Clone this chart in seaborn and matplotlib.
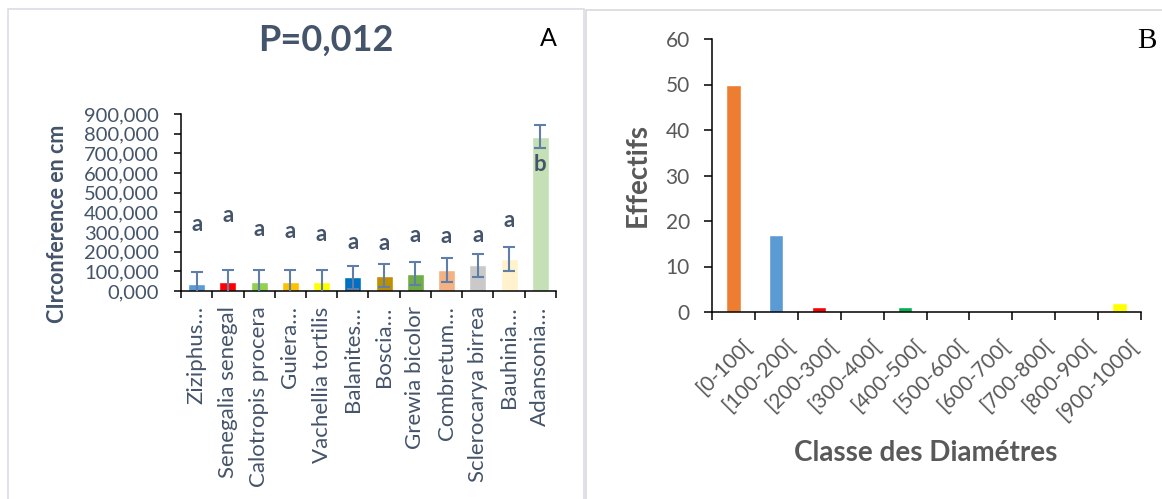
import matplotlib
matplotlib.use("Agg")
import matplotlib.pyplot as plt
from matplotlib.patches import Rectangle
from matplotlib.ticker import FuncFormatter, FixedLocator
from matplotlib.transforms import ScaledTranslation
import seaborn as sns
import pandas as pd
import numpy as np

# Panel A: mean circumference per species
species = ["Ziziphus…", "Senegalia senegal", "Calotropis procera", "Guiera…",
           "Vachellia tortilis", "Balanites…", "Boscia…", "Grewia bicolor",
           "Combretum…", "Sclerocarya birrea", "Bauhinia…", "Adansonia…"]
circ_mean = [37000, 47000, 47000, 47000, 47000, 69000, 78000, 88000,
             108000, 130000, 164000, 785000]
circ_err = [58000, 60000, 60000, 60000, 60000, 57000, 58000, 60000,
            62000, 60000, 61000, 60000]
groups = ["a", "a", "a", "a", "a", "a", "a", "a", "a", "a", "a", "b"]
species_colors = ["#5B9BD5", "#FF0000", "#92D050", "#FFC000", "#FFFF00", "#0070C0",
                  "#BF8F00", "#70AD47", "#F4B183", "#C9C9C9", "#FFF2CC", "#C5E0B4"]

# Panel B: diameter class counts
classes = ["[0-100[", "[100-200[", "[200-300[", "[300-400[", "[400-500[",
           "[500-600[", "[600-700[", "[700-800[", "[800-900[", "[900-1000["]
counts = [50, 17, 1, 0, 1, 0, 0, 0, 0, 2]
class_colors = ["#ED7D31", "#5B9BD5", "#FF0000", "#A5A5A5", "#00B050",
                "#A5A5A5", "#A5A5A5", "#A5A5A5", "#A5A5A5", "#FFFF00"]

# heights at which the group letters are written
letter_y = [337000, 382000, 311000, 303000, 286000, 249000, 244000, 281000,
            276000, 281000, 357000, 641000]

sns.set_theme(style="white")
plt.rcParams["font.family"] = ["Lato", "DejaVu Sans"]

W, H = 1162, 499
fig = plt.figure(figsize=(W / 100, H / 100), dpi=100)
fig.patch.set_facecolor("white")


def px_axes(x0, y0, x1, y1):
    return fig.add_axes([x0 / W, 1 - y1 / H, (x1 - x0) / W, (y1 - y0) / H])


def px_text(x, y, s, **kw):
    return fig.text(x / W, 1 - y / H, s, **kw)


# panel frames
fig.patches.append(Rectangle((8 / W, -0.02), (584 - 8) / W, 1 - 9 / H + 0.02,
                             transform=fig.transFigure, fill=False,
                             edgecolor="#D9DDE3", lw=1.2))
fig.patches.append(Rectangle((586 / W, -0.02), (1170 - 586) / W, 1 - 10 / H + 0.02,
                             transform=fig.transFigure, fill=False,
                             edgecolor="#D9D9D9", lw=1.2))

slate = "#44546A"
grey = "#595959"

# ---------------- Panel A ----------------
axA = px_axes(181, 114, 556, 291)
dfA = pd.DataFrame({"species": species, "mean": circ_mean})
sns.barplot(data=dfA, x="species", y="mean", hue="species", order=species,
            palette=dict(zip(species, species_colors)), width=0.55,
            legend=False, ax=axA, errorbar=None, saturation=1)
xs = np.arange(len(species))
axA.errorbar(xs, circ_mean, yerr=circ_err, fmt="none", ecolor="#5F7FA8",
             elinewidth=1.5, capsize=4.3, capthick=1.5, zorder=5)
axA.set_ylim(0, 900000)
axA.set_xlim(-0.5, len(species) - 0.5)
axA.yaxis.set_major_locator(FixedLocator(np.arange(0, 900001, 100000)))
axA.yaxis.set_major_formatter(FuncFormatter(lambda v, p: f"{int(round(v / 1000))},000"))
for s in ["top", "right"]:
    axA.spines[s].set_visible(False)
for s in ["left", "bottom"]:
    axA.spines[s].set_color("black")
    axA.spines[s].set_linewidth(1.1)
axA.tick_params(axis="y", direction="out", length=5, width=1.1, color="black",
                labelsize=14.5, labelcolor=slate, left=True, pad=11)
axA.set_xticks(xs)
axA.set_xticklabels(species, rotation=90, fontsize=16, color=slate)
axA.tick_params(axis="x", which="major", length=0, pad=11)
axA.set_xticks(np.arange(-0.5, len(species)), minor=True)
axA.tick_params(axis="x", which="minor", direction="out", length=5, width=1.1,
                color="black", bottom=True)
axA.set_xlabel("")
axA.set_ylabel("")
for x, y, g in zip(xs, letter_y, groups):
    axA.text(x, y, g, ha="center", va="center", fontsize=16, fontweight="bold",
             color=slate, zorder=6)
px_text(57, 224, "CIrconference en cm", rotation=90, ha="center", va="center",
        fontsize=15.5, fontweight="bold", color=slate)
px_text(326, 40, "P=0,012", ha="center", va="center",
        fontsize=26, fontweight="bold", color=slate)
px_text(548, 38, "A", ha="center", va="center", fontsize=18, color="black")

# ---------------- Panel B ----------------
axB = px_axes(712, 39, 1141, 312)
dfB = pd.DataFrame({"classe": classes, "n": counts})
sns.barplot(data=dfB, x="classe", y="n", hue="classe", order=classes,
            palette=dict(zip(classes, class_colors)), width=0.33,
            legend=False, ax=axB, errorbar=None, saturation=1)
axB.set_ylim(0, 60)
axB.set_xlim(-0.5, len(classes) - 0.5)
axB.set_yticks(np.arange(0, 61, 10))
for s in ["top", "right"]:
    axB.spines[s].set_visible(False)
for s in ["left", "bottom"]:
    axB.spines[s].set_color("black")
    axB.spines[s].set_linewidth(1.1)
axB.tick_params(axis="y", direction="out", length=6, width=1.1, color="black",
                labelsize=15, labelcolor=grey, left=True, pad=10)
xb = np.arange(len(classes))
axB.set_xticks(xb)
axB.set_xticklabels(classes, rotation=45, ha="right", va="top",
                    rotation_mode="anchor", fontsize=15, color=grey)
axB.tick_params(axis="x", which="major", length=0, pad=17)
shift = ScaledTranslation(8 / 100, 0, fig.dpi_scale_trans)
for lab in axB.get_xticklabels():
    lab.set_transform(lab.get_transform() + shift)
axB.set_xticks(np.arange(-0.5, len(classes)), minor=True)
axB.tick_params(axis="x", which="minor", direction="out", length=6, width=1.1,
                color="black", bottom=True)
axB.set_xlabel("")
axB.set_ylabel("")
px_text(638, 175, "Effectifs", rotation=90, ha="center", va="center",
        fontsize=20, fontweight="bold", color=grey)
px_text(926, 453, "Classe des Diamétres", ha="center", va="center",
        fontsize=20, fontweight="bold", color=grey)
px_text(1147, 41, "B", ha="center", va="center", fontsize=21,
        color="black", family="Liberation Serif")

fig.savefig("out.png", dpi=100, facecolor="white")
